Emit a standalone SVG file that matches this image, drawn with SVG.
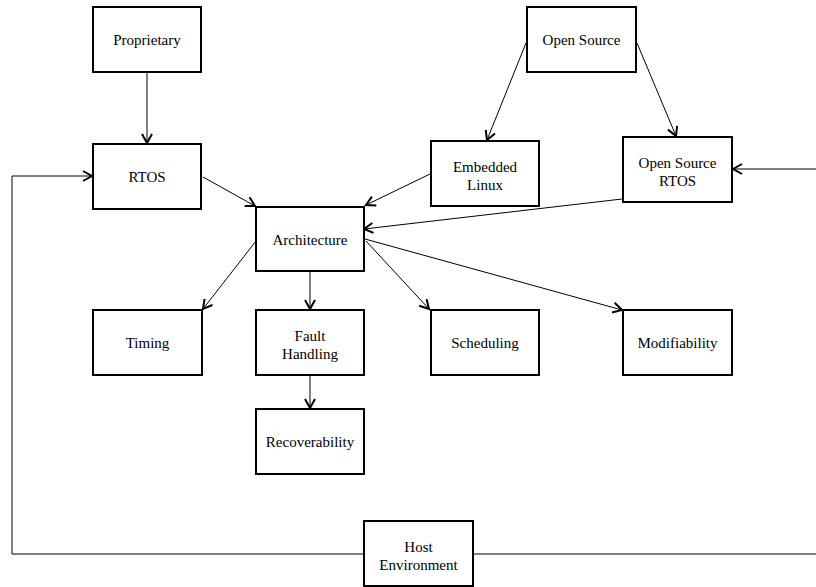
<svg xmlns="http://www.w3.org/2000/svg" width="816" height="587" viewBox="0 0 816 587">
<style>
.box{fill:#fff;stroke:#000;stroke-width:2}
.lbl{font-family:"Liberation Serif","Times New Roman",serif;font-size:15px;fill:#000;text-anchor:middle}
.c{fill:none;stroke:#000;stroke-width:1}
.a{marker-end:url(#vee)}
</style>
<defs>
<marker id="vee" markerUnits="userSpaceOnUse" markerWidth="12" markerHeight="12" viewBox="0 0 12 12" refX="10" refY="6" orient="auto">
<path d="M1,1 L10,6 L1,11" fill="none" stroke="#000" stroke-width="2"/>
</marker>
</defs>
<rect width="816" height="587" fill="#fff"/>
<g id="connectors">
<path class="c a" d="M147,72 L147,143"/>
<path class="c a" d="M364,554 L12,554 L12,176 L92,176"/>
<path class="c a" d="M473,554 L817,554 L817,169 L733,169"/>
<path class="c a" d="M203,177 L255,206"/>
<path class="c a" d="M430,174 L366,205"/>
<path class="c a" d="M622,199 L364,229"/>
<path class="c a" d="M526,43 L487,140"/>
<path class="c a" d="M637,43 L676,136"/>
<path class="c a" d="M256,241 L203,309"/>
<path class="c a" d="M310,271 L310,309"/>
<path class="c a" d="M366,241 L429,309"/>
<path class="c a" d="M365,239 L622,310"/>
<path class="c a" d="M310,375 L310,408"/>
</g>
<g id="proprietary"><rect class="box" x="93" y="7" width="108" height="65"/><text class="lbl" x="147" y="45">Proprietary</text></g>
<g id="open-source"><rect class="box" x="527" y="7" width="109" height="65"/><text class="lbl" x="581.5" y="45">Open Source</text></g>
<g id="rtos"><rect class="box" x="93" y="144" width="108" height="65"/><text class="lbl" x="147" y="182">RTOS</text></g>
<g id="embedded-linux"><rect class="box" x="431" y="141" width="108" height="65"/><text class="lbl" x="485" y="172">Embedded</text><text class="lbl" x="485" y="190">Linux</text></g>
<g id="open-source-rtos"><rect class="box" x="623" y="137" width="109" height="65"/><text class="lbl" x="677.5" y="168">Open Source</text><text class="lbl" x="677.5" y="186">RTOS</text></g>
<g id="architecture"><rect class="box" x="256" y="207" width="108" height="64"/><text class="lbl" x="310" y="245">Architecture</text></g>
<g id="timing"><rect class="box" x="93" y="310" width="109" height="65"/><text class="lbl" x="147.5" y="348">Timing</text></g>
<g id="fault-handling"><rect class="box" x="256" y="310" width="108" height="65"/><text class="lbl" x="310" y="341">Fault</text><text class="lbl" x="310" y="359">Handling</text></g>
<g id="scheduling"><rect class="box" x="431" y="310" width="108" height="65"/><text class="lbl" x="485" y="348">Scheduling</text></g>
<g id="modifiability"><rect class="box" x="623" y="310" width="109" height="65"/><text class="lbl" x="677.5" y="348">Modifiability</text></g>
<g id="recoverability"><rect class="box" x="256" y="409" width="108" height="65"/><text class="lbl" x="310" y="447">Recoverability</text></g>
<g id="host-environment"><rect class="box" x="364" y="521" width="109" height="65"/><text class="lbl" x="418.5" y="552">Host</text><text class="lbl" x="418.5" y="570">Environment</text></g>
</svg>
